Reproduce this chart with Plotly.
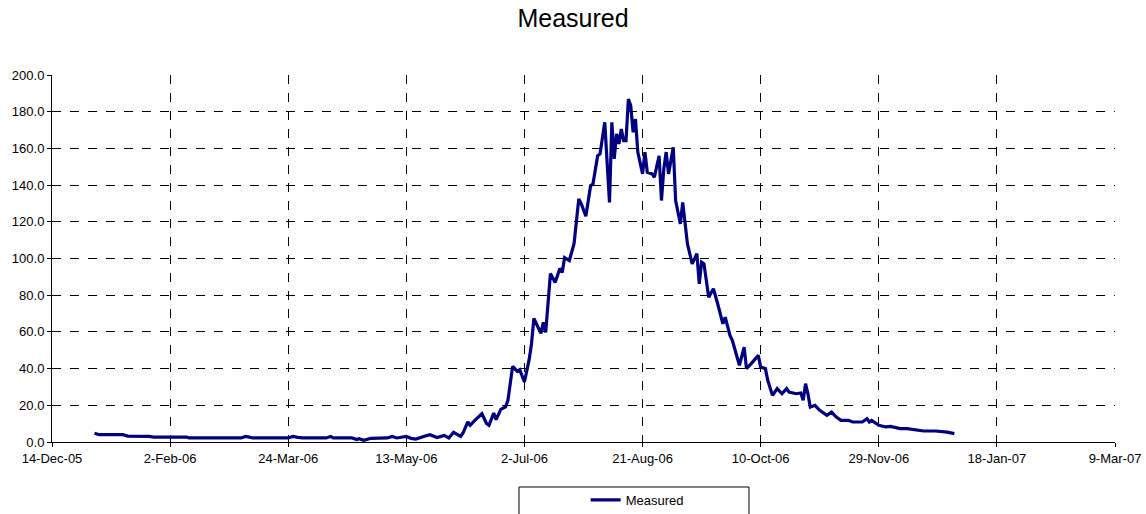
import plotly.graph_objects as go

# daily flow readings (at turning points)
dates = [
    "2006-01-01", "2006-01-03", "2006-01-13", "2006-01-15", "2006-01-24", "2006-01-26",
    "2006-02-09", "2006-02-10", "2006-03-04", "2006-03-06", "2006-03-07", "2006-03-09",
    "2006-03-24", "2006-03-26", "2006-03-28", "2006-03-30", "2006-04-09", "2006-04-11",
    "2006-04-12", "2006-04-20", "2006-04-22", "2006-04-23", "2006-04-25", "2006-04-28",
    "2006-05-05", "2006-05-07", "2006-05-09", "2006-05-13", "2006-05-15", "2006-05-17",
    "2006-05-21", "2006-05-23", "2006-05-26", "2006-05-29", "2006-05-31", "2006-06-02",
    "2006-06-05", "2006-06-06", "2006-06-08", "2006-06-09", "2006-06-11", "2006-06-14",
    "2006-06-16", "2006-06-17", "2006-06-19", "2006-06-20", "2006-06-22", "2006-06-24",
    "2006-06-25", "2006-06-27", "2006-06-29", "2006-06-30", "2006-07-02", "2006-07-04",
    "2006-07-05", "2006-07-06", "2006-07-07", "2006-07-09", "2006-07-10", "2006-07-11",
    "2006-07-13", "2006-07-15", "2006-07-17", "2006-07-18", "2006-07-19", "2006-07-21",
    "2006-07-23", "2006-07-25", "2006-07-26", "2006-07-28", "2006-07-30", "2006-07-31",
    "2006-08-02", "2006-08-03", "2006-08-05", "2006-08-07", "2006-08-08", "2006-08-09",
    "2006-08-10", "2006-08-11", "2006-08-12", "2006-08-13", "2006-08-14", "2006-08-15",
    "2006-08-16", "2006-08-17", "2006-08-18", "2006-08-19", "2006-08-21", "2006-08-22",
    "2006-08-23", "2006-08-25", "2006-08-26", "2006-08-28", "2006-08-29", "2006-08-30",
    "2006-08-31", "2006-09-01", "2006-09-03", "2006-09-04", "2006-09-06", "2006-09-07",
    "2006-09-09", "2006-09-10", "2006-09-11", "2006-09-13", "2006-09-14", "2006-09-15",
    "2006-09-16", "2006-09-18", "2006-09-20", "2006-09-22", "2006-09-24", "2006-09-25",
    "2006-09-27", "2006-09-28", "2006-09-30", "2006-10-01", "2006-10-03", "2006-10-04",
    "2006-10-06", "2006-10-08", "2006-10-09", "2006-10-10", "2006-10-12", "2006-10-13",
    "2006-10-15", "2006-10-17", "2006-10-19", "2006-10-21", "2006-10-22", "2006-10-25",
    "2006-10-27", "2006-10-28", "2006-10-29", "2006-10-30", "2006-10-31", "2006-11-02",
    "2006-11-04", "2006-11-07", "2006-11-09", "2006-11-11", "2006-11-13", "2006-11-16",
    "2006-11-18", "2006-11-22", "2006-11-24", "2006-11-25", "2006-11-26", "2006-11-29",
    "2006-12-02", "2006-12-04", "2006-12-08", "2006-12-11", "2006-12-14", "2006-12-18",
    "2006-12-23", "2006-12-28", "2006-12-31",
]
measured = [
    4.8, 4.0, 4.0, 3.2, 3.1, 2.7,
    2.7, 2.2, 2.2, 3.0, 2.8, 2.2,
    2.2, 3.0, 2.5, 2.2, 2.2, 3.0,
    2.2, 2.2, 1.3, 1.8, 0.9, 2.0,
    2.2, 3.0, 2.2, 3.0, 2.0, 1.6,
    3.3, 4.0, 2.4, 3.6, 2.2, 5.3,
    3.1, 4.9, 10.9, 9.1, 11.8, 15.4,
    10.0, 9.1, 15.8, 12.2, 17.8, 19.1,
    22.7, 41.2, 38.5, 39.4, 32.7, 45.0,
    53.7, 67.4, 64.6, 59.2, 65.2, 59.7,
    91.8, 86.9, 94.6, 92.4, 100.5, 98.9,
    108.1, 132.5, 130.0, 123.0, 139.7, 140.6,
    156.0, 157.0, 174.2, 130.6, 174.2, 154.3,
    167.9, 162.4, 170.6, 164.2, 164.2, 186.9,
    183.3, 168.8, 176.0, 157.9, 146.1, 157.9,
    147.0, 146.1, 144.3, 156.0, 131.6, 148.8,
    158.0, 146.1, 160.6, 131.6, 118.9, 130.6,
    108.0, 101.6, 97.1, 102.6, 86.2, 98.0,
    97.1, 78.9, 83.5, 74.4, 64.4, 68.0,
    58.1, 55.4, 47.2, 41.8, 51.7, 40.0,
    42.7, 45.4, 47.2, 40.8, 40.0, 33.6,
    25.4, 29.1, 26.3, 29.1, 27.2, 26.3,
    26.7, 22.7, 31.8, 26.3, 19.0, 20.0,
    17.3, 14.5, 16.3, 13.6, 11.8, 11.8,
    10.9, 10.9, 12.7, 10.9, 11.8, 9.1,
    8.2, 8.5, 7.3, 7.3, 6.8, 6.0,
    6.0, 5.4, 4.6,
]

x_start = "2005-12-14"
x_end = "2007-03-09"
y_ticks = [0, 20, 40, 60, 80, 100, 120, 140, 160, 180, 200]

font = "Liberation Sans, Arial, sans-serif"

fig = go.Figure()
fig.add_trace(go.Scatter(
    x=dates, y=measured, mode="lines", name="Measured",
    line=dict(color="#000080", width=3.2),
))

fig.update_layout(
    width=1146, height=514,
    margin=dict(l=52, r=31, t=75, b=72, autoexpand=False),
    paper_bgcolor="white", plot_bgcolor="white",
    font=dict(family=font, size=13, color="black"),
    title=dict(text="Measured", x=0.5, xanchor="center", y=0.965, yanchor="middle",
               font=dict(family=font, size=25, color="black")),
    showlegend=True,
    legend=dict(orientation="h", x=0.502, xanchor="left", y=-0.158, yanchor="middle",
                bgcolor="rgba(0,0,0,0)", borderwidth=0, font=dict(size=13)),
    shapes=[dict(type="rect", xref="paper", yref="paper",
                 x0=0.4393, x1=0.6557, y0=-0.23, y1=-0.1226,
                 line=dict(color="black", width=1), fillcolor="rgba(0,0,0,0)")],
)

fig.update_xaxes(
    type="date", range=[x_start, x_end], automargin=False,
    tick0=x_start, dtick=50 * 86400000, tickformat="%-d-%b-%y",
    showgrid=True, gridcolor="black", gridwidth=1, griddash="dash",
    showline=True, linecolor="black", linewidth=1,
    ticks="outside", ticklen=4, tickcolor="black",
    zeroline=False,
)
fig.update_yaxes(
    range=[0, 200], tickvals=y_ticks, tickformat=".1f", automargin=False,
    showgrid=True, gridcolor="black", gridwidth=1, griddash="dash",
    showline=True, linecolor="black", linewidth=1,
    ticks="outside", ticklen=4, tickcolor="black",
    zeroline=False,
)

# drop the default 8px body margin so the figure fills the window exactly
fig.write_html("out.html", config={"displayModeBar": False},
               post_script="document.body.style.margin = '0';")
